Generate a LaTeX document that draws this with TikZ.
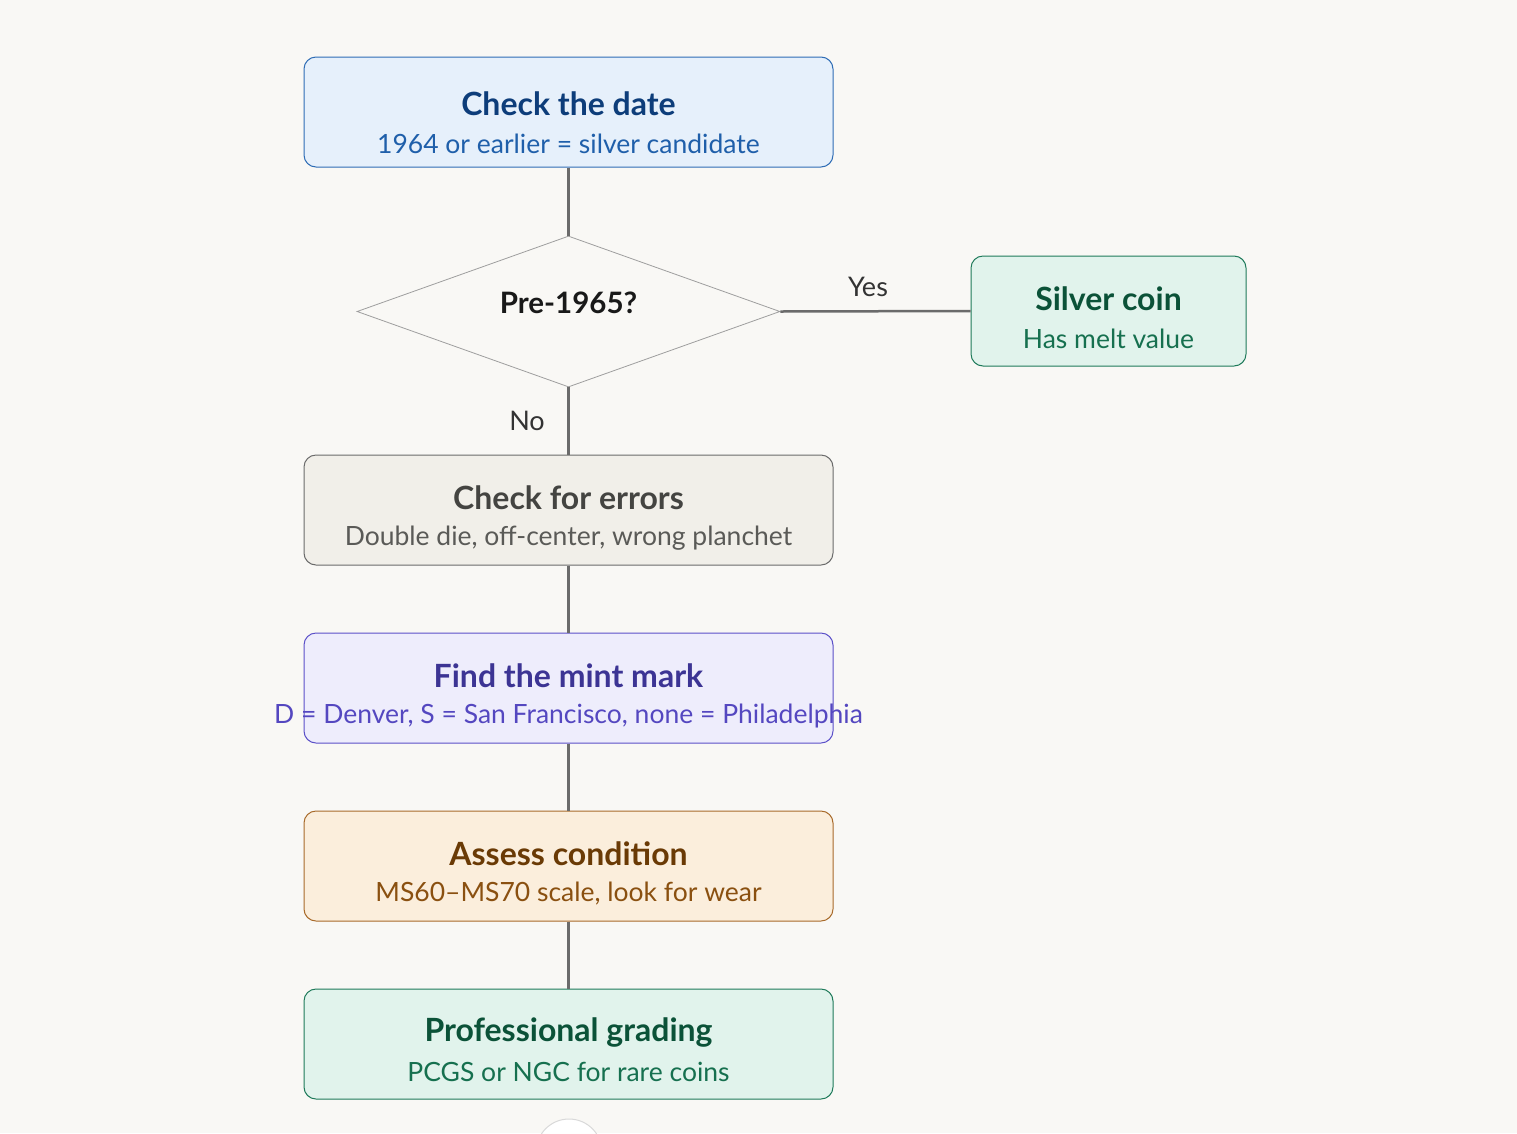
\documentclass[tikz,border=0pt]{standalone}
\usepackage{fontspec}
\setmainfont{Lato}
\usetikzlibrary{shapes.geometric}
\definecolor{bg}{HTML}{F9F8F5}
\definecolor{line}{HTML}{6B6B6B}
\definecolor{bluefill}{HTML}{E6F0FB}\definecolor{blueline}{HTML}{2F6DB5}\definecolor{bluet}{HTML}{0D3D7A}\definecolor{blues}{HTML}{1F5FAA}
\definecolor{greenfill}{HTML}{E1F3EC}\definecolor{greenline}{HTML}{1E7A5A}\definecolor{greent}{HTML}{0B5238}\definecolor{greens}{HTML}{16704F}
\definecolor{grayfill}{HTML}{F1EFE9}\definecolor{grayline}{HTML}{6B6B6B}\definecolor{grayt}{HTML}{444441}\definecolor{grays}{HTML}{5A5A57}
\definecolor{purpfill}{HTML}{EEEDFC}\definecolor{purpline}{HTML}{5B50C8}\definecolor{purpt}{HTML}{3C3494}\definecolor{purps}{HTML}{5447C0}
\definecolor{orfill}{HTML}{FBEEDC}\definecolor{orline}{HTML}{A86A2A}\definecolor{ort}{HTML}{6A3A05}\definecolor{ors}{HTML}{8A5010}
\tikzset{
  box/.style={draw, rounded corners=12pt, minimum width=529pt, minimum height=110pt, line width=1pt},
  sbox/.style={box, minimum width=275pt},
  ttl/.style={font=\fontsize{32}{38}\selectfont\bfseries},
  sub/.style={font=\fontsize{26.5}{31}\selectfont},
  conn/.style={draw=line, line width=2.5pt},
  lbl/.style={font=\fontsize{27}{32}\selectfont, text=black!80}
}
\begin{document}
\begin{tikzpicture}[x=1pt,y=-1pt]
\fill[bg] (0,0) rectangle (1517,1133);
\useasboundingbox (0,0) rectangle (1517,1133);
\node[box, fill=bluefill, draw=blueline] (b1) at (568.5,112) {};
\node[diamond, draw=black!38, fill=bg, line width=0.8pt, minimum width=423pt, minimum height=151pt, aspect=2.8, inner sep=0pt] (d) at (568.5,311.5) {};
\node[sbox, fill=greenfill, draw=greenline] (sc) at (1108.5,311) {};
\node[box, fill=grayfill, draw=grayline] (b2) at (568.5,510) {};
\node[box, fill=purpfill, draw=purpline] (b3) at (568.5,688) {};
\node[box, fill=orfill, draw=orline] (b4) at (568.5,866) {};
\node[box, fill=greenfill, draw=greenline] (b5) at (568.5,1044) {};
\draw[conn] (b1.south) -- (d.north);
\draw[conn] (d.east) -- (sc.west);
\draw[conn] (d.south) -- (b2.north);
\draw[conn] (b2.south) -- (b3.north);
\draw[conn] (b3.south) -- (b4.north);
\draw[conn] (b4.south) -- (b5.north);
% texts
\node[ttl, text=bluet] (t1) at (568.5,104) {Check the date};
\node[sub, text=blues] (s1) at (568.5,144) {1964 or earlier = silver candidate};
\node[ttl, text=black!90, font=\fontsize{29.5}{34}\selectfont\bfseries] (td) at (568.5,303) {Pre-1965?};
\node[ttl, text=greent] (tsc) at (1108.5,299) {Silver coin};
\node[sub, text=greens] (ssc) at (1108.5,339) {Has melt value};
\node[lbl] (yes) at (868,287) {Yes};
\node[lbl] (no) at (527,421) {No};
\node[ttl, text=grayt] (t2) at (568.5,498) {Check for errors};
\node[sub, text=grays] (s2) at (568.5,538) {Double die, off-center, wrong planchet};
\node[ttl, text=purpt] (t3) at (568.5,676) {Find the mint mark};
\node[sub, text=purps] (s3) at (568.5,716) {D = Denver, S = San Francisco, none = Philadelphia};
\node[ttl, text=ort] (t4) at (568.5,854) {Assess condition};
\node[sub, text=ors] (s4) at (568.5,894) {MS60–MS70 scale, look for wear};
\node[ttl, text=greent] (t5) at (568.5,1032) {Professional grading};
\node[sub, text=greens] (s5) at (568.5,1072) {PCGS or NGC for rare coins};
% partial circle at bottom
\node[circle, draw=black!15, fill=white, line width=1pt, minimum size=66pt] (c) at (569,1152) {};
\end{tikzpicture}
\end{document}
